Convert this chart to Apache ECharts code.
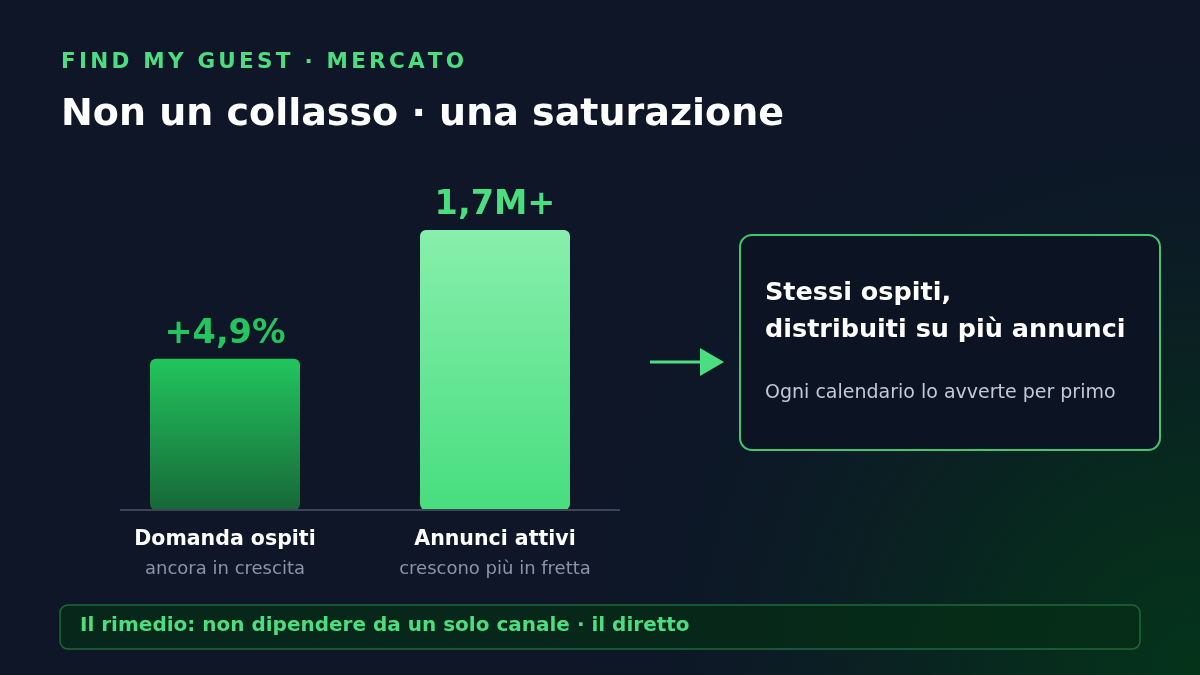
<!DOCTYPE html>
<html>
<head>
<meta charset="utf-8">
<script src="https://cdn.jsdelivr.net/npm/echarts@6/dist/echarts.min.js"></script>
<style>
  html, body { margin: 0; padding: 0; background: #0e1628; }
  #chart { width: 1200px; height: 675px; }
</style>
</head>
<body>
<div id="chart"></div>
<script>
// categories + illustrative bar heights (relative, bars are not to scale)
let categories = ['Domanda ospiti', 'Annunci attivi'];
let subLabels = ['ancora in crescita', 'crescono più in fretta'];
let barHeights = [54, 100];
let valueLabels = ['+4,9%', '1,7M+'];

let FONT = '"DejaVu Sans", Verdana, sans-serif';

// letter-spaced text, one glyph per element
function spacedText(str, x, y, size, spacing, color){
    let ctx = document.createElement('canvas').getContext('2d');
    ctx.font = 'bold ' + size + 'px ' + FONT;
    let out = [];
    let cx = x;
    for (let ch of str) {
        out.push({
            type: 'text', left: cx, top: y, z: 10,
            style: {text: ch, fill: color, font: 'bold ' + size + 'px ' + FONT}
        });
        cx += ctx.measureText(ch).width + spacing;
    }
    return out;
}

let chart = echarts.init(document.getElementById('chart'));

let graphics = [
    // background
    {type: 'rect', shape: {x: 0, y: 0, width: 1200, height: 675}, z: -10, silent: true,
     style: {fill: '#0e1628'}},
    {type: 'rect', shape: {x: 0, y: 0, width: 1200, height: 675}, z: -9, silent: true,
     style: {fill: {type: 'radial', x: 1, y: 1, r: 1.0, colorStops: [
        {offset: 0, color: 'rgba(4,52,26,1)'}, {offset: 0.35, color: 'rgba(6,44,28,0.8)'},
        {offset: 0.7, color: 'rgba(10,32,34,0.35)'}, {offset: 1, color: 'rgba(14,22,40,0)'}]}}},
    // title
    {type: 'text', left: 61, top: 96, z: 10,
     style: {text: 'Non un collasso · una saturazione', fill: '#ffffff', font: 'bold 38px ' + FONT}},
    // baseline
    {type: 'line', shape: {x1: 120, y1: 510, x2: 620, y2: 510}, z: 5,
     style: {stroke: '#3a4558', lineWidth: 2}},
    // arrow
    {type: 'line', shape: {x1: 650, y1: 362, x2: 702, y2: 362}, z: 5,
     style: {stroke: '#4ade80', lineWidth: 3}},
    {type: 'polygon', shape: {points: [[700, 348], [724, 362], [700, 376]]}, z: 5,
     style: {fill: '#4ade80'}},
    // callout box
    {type: 'rect', shape: {x: 740, y: 235, width: 420, height: 215, r: 12}, z: 5,
     style: {fill: '#0c1322', stroke: '#3ec76f', lineWidth: 2}},
    {type: 'text', left: 765, top: 275, z: 10,
     style: {text: 'Stessi ospiti,\ndistribuiti su più annunci', fill: '#ffffff',
             font: 'bold 25.5px ' + FONT, lineHeight: 37}},
    {type: 'text', left: 765, top: 384, z: 10,
     style: {text: 'Ogni calendario lo avverte per primo', fill: '#c3cad6', font: '19px ' + FONT}},
    // bottom banner
    {type: 'rect', shape: {x: 60, y: 605, width: 1080, height: 44, r: 8}, z: 5,
     style: {fill: 'rgba(5,46,22,0.75)', stroke: '#1c6a3b', lineWidth: 1.5}},
    {type: 'text', left: 80, top: 616, z: 10,
     style: {text: 'Il rimedio: non dipendere da un solo canale · il diretto', fill: '#4ade80',
             font: 'bold 20px ' + FONT}}
].concat(spacedText('FIND MY GUEST · MERCATO', 61, 51, 21.5, 3.25, '#4ade80'));

let barColors = [
    {type: 'linear', x: 0, y: 0, x2: 0, y2: 1, colorStops: [
        {offset: 0, color: '#22c55e'}, {offset: 1, color: '#176838'}]},
    {type: 'linear', x: 0, y: 0, x2: 0, y2: 1, colorStops: [
        {offset: 0, color: '#88efac'}, {offset: 1, color: '#48dd7f'}]}
];
let labelColors = ['#22c55e', '#4ade80'];

let option = {
    animation: false,
    textStyle: {fontFamily: FONT},
    grid: {left: 90, right: 570, top: 230, bottom: 165},
    xAxis: {
        type: 'category',
        data: categories,
        axisLine: {show: false},
        axisTick: {show: false},
        axisLabel: {
            margin: 16,
            formatter: function(v, i){ return '{a|' + v + '}\n{b|' + subLabels[i] + '}'; },
            rich: {
                a: {fontFamily: FONT, fontWeight: 'bold', fontSize: 20.5, color: '#ffffff', lineHeight: 28},
                b: {fontFamily: FONT, fontSize: 18, color: '#8b95a7', lineHeight: 30}
            }
        }
    },
    yAxis: {type: 'value', min: 0, max: 100, show: false, splitLine: {show: false}},
    series: [{
        type: 'bar',
        barWidth: 150,
        data: barHeights.map(function(v, i){
            return {
                value: v,
                itemStyle: {color: barColors[i], borderRadius: 6},
                label: {color: labelColors[i]}
            };
        }),
        label: {
            show: true,
            position: 'top',
            distance: 8,
            fontFamily: FONT,
            fontWeight: 'bold',
            fontSize: 33.5,
            formatter: function(p){ return valueLabels[p.dataIndex]; }
        }
    }],
    graphic: graphics
};
chart.setOption(option);
</script>
</body>
</html>
